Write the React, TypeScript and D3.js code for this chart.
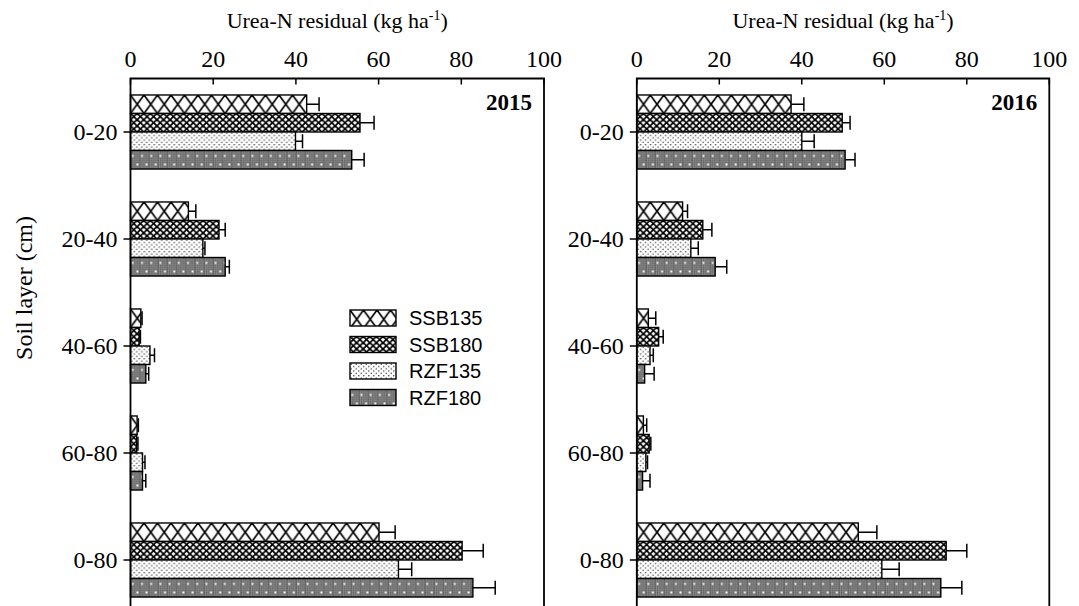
import React from "react";
import * as d3 from "d3";

const categories = ["0-20", "20-40", "40-60", "60-80", "0-80"];
const seriesNames = ["SSB135", "SSB180", "RZF135", "RZF180"];
const years = ["2015", "2016"];
const xTicks = [0, 20, 40, 60, 80, 100];

// 2015 values per series (in category order)
const v2015_SSB135 = [42.6, 14.0, 2.5, 1.6, 60.1];
const v2015_SSB180 = [55.5, 21.4, 2.1, 1.5, 80.2];
const v2015_RZF135 = [39.9, 17.5, 4.7, 2.9, 64.8];
const v2015_RZF180 = [53.5, 22.9, 3.7, 2.9, 82.8];
const e2015_SSB135 = [3.0, 1.8, 0.3, 0.3, 3.9];
const e2015_SSB180 = [3.4, 1.5, 0.3, 0.3, 5.1];
const e2015_RZF135 = [1.7, 0.5, 1.1, 0.6, 3.2];
const e2015_RZF180 = [3.0, 1.0, 0.7, 0.8, 5.4];

// 2016
const v2016_SSB135 = [37.4, 11.1, 2.8, 1.6, 53.7];
const v2016_SSB180 = [49.8, 16.0, 5.3, 3.0, 75.0];
const v2016_RZF135 = [40.0, 13.1, 3.2, 2.2, 59.4];
const v2016_RZF180 = [50.5, 19.0, 1.9, 1.4, 73.7];
const e2016_SSB135 = [3.1, 1.2, 1.8, 0.8, 4.5];
const e2016_SSB180 = [1.9, 2.2, 1.1, 0.4, 5.0];
const e2016_RZF135 = [3.0, 1.8, 0.8, 0.4, 4.2];
const e2016_RZF180 = [2.4, 2.8, 2.3, 1.8, 5.1];

const panelValues = [
  [v2015_SSB135, v2015_SSB180, v2015_RZF135, v2015_RZF180],
  [v2016_SSB135, v2016_SSB180, v2016_RZF135, v2016_RZF180],
];
const panelErrors = [
  [e2015_SSB135, e2015_SSB180, e2015_RZF135, e2015_RZF180],
  [e2016_SSB135, e2016_SSB180, e2016_RZF135, e2016_RZF180],
];

const W = 1079;
const H = 606;
const TOP = 78.5;
const BOTTOM = 613.5;
const panels = [
  { x0: 130.5, x1: 544 },
  { x0: 636.8, x1: 1049.3 },
];
const patIds = ["pSSB135", "pSSB180", "pRZF135", "pRZF180"];
const SERIF = "'Liberation Serif', 'Times New Roman', serif";
const SANS = "'Liberation Sans', Arial, sans-serif";

export default function App() {
  const y = d3
    .scaleBand<string>()
    .domain(categories)
    .range([TOP, BOTTOM])
    .paddingInner(0.308)
    .paddingOuter(0.154);
  const ys = d3.scaleBand<string>().domain(seriesNames).range([0, y.bandwidth()]).padding(0);
  const bh = ys.bandwidth();

  const patterns = (
    <defs>
      <pattern id="pSSB135" patternUnits="userSpaceOnUse" width={13.5} height={bh}>
        <rect width={13.5} height={bh} fill="#fff" />
        <line x1={0} y1={0} x2={13.5} y2={bh} stroke="#000" strokeWidth={1.6} />
        <line x1={13.5} y1={0} x2={0} y2={bh} stroke="#000" strokeWidth={1.6} />
      </pattern>
      <pattern id="pSSB180" patternUnits="userSpaceOnUse" width={6.6} height={bh / 3}>
        <rect width={6.6} height={bh / 3} fill="#fff" />
        <line x1={0} y1={0} x2={6.6} y2={bh / 3} stroke="#000" strokeWidth={1.7} />
        <line x1={6.6} y1={0} x2={0} y2={bh / 3} stroke="#000" strokeWidth={1.7} />
      </pattern>
      <pattern id="pRZF135" patternUnits="userSpaceOnUse" width={5} height={bh / 4}>
        <rect width={5} height={bh / 4} fill="#fff" />
        <circle cx={1.25} cy={bh / 16} r={0.75} fill="#333" />
        <circle cx={3.75} cy={(3 * bh) / 16} r={0.75} fill="#333" />
      </pattern>
      <pattern id="pRZF180" patternUnits="userSpaceOnUse" width={9.2} height={bh}>
        <rect width={9.2} height={bh} fill="#8a8a8a" />
        {d3.range(0, 9.2, 2).map((px) =>
          d3.range(0, bh, 2).map((py) => (
            <rect key={`${px}-${py}`} x={px} y={py} width={1} height={1} fill="#444" />
          ))
        )}
        <circle cx={2.3} cy={bh * 0.29} r={1.1} fill="#fff" />
        <circle cx={6.9} cy={bh * 0.76} r={1.1} fill="#fff" />
      </pattern>
    </defs>
  );

  return (
    <svg
      width={W}
      height={H}
      style={{ position: "absolute", left: 0, top: 0, background: "#fff" }}
    >
      {patterns}
      <rect width={W} height={H} fill="#fff" />
      {panels.map((p, pi) => {
        const x = d3.scaleLinear().domain([0, 100]).range([p.x0, p.x1]);
        const vals = panelValues[pi];
        const errs = panelErrors[pi];
        return (
          <g key={pi}>
            {/* title */}
            <text
              x={(p.x0 + p.x1) / 2}
              y={28}
              textAnchor="middle"
              fontFamily={SERIF}
              fontSize={22}
            >
              Urea-N residual (kg ha
              <tspan dy={-8} fontSize={14}>-1</tspan>
              <tspan dy={8}>)</tspan>
            </text>
            {/* x tick labels */}
            {xTicks.map((t) => (
              <text
                key={t}
                x={x(t)}
                y={67}
                textAnchor="middle"
                fontFamily={SERIF}
                fontSize={24}
              >
                {t}
              </text>
            ))}
            {/* bars */}
            {categories.map((c, ci) =>
              seriesNames.map((s, si) => {
                const v = vals[si][ci];
                const e = errs[si][ci];
                const by = (y(c) as number) + (ys(s) as number);
                const cy = by + bh / 2;
                return (
                  <g key={c + s}>
                    <line x1={x(v)} x2={x(v + e)} y1={cy} y2={cy} stroke="#000" strokeWidth={1.5} />
                    <line x1={x(v + e)} x2={x(v + e)} y1={cy - 7} y2={cy + 7} stroke="#000" strokeWidth={1.5} />
                    <g transform={`translate(${x(0)},${by})`}>
                      <rect
                        width={x(v) - x(0)}
                        height={bh}
                        fill={`url(#${patIds[si]})`}
                        stroke="#000"
                        strokeWidth={1.4}
                      />
                    </g>
                  </g>
                );
              })
            )}
            {/* frame */}
            <path
              d={`M${p.x0},${BOTTOM}V${TOP}H${p.x1}V${BOTTOM}`}
              fill="none"
              stroke="#000"
              strokeWidth={1.8}
            />
            {xTicks.map((t) => (
              <line key={t} x1={x(t)} x2={x(t)} y1={TOP} y2={TOP + 6} stroke="#000" strokeWidth={1.5} />
            ))}
            {categories.map((c) => {
              const cy = (y(c) as number) + y.bandwidth() / 2;
              return (
                <g key={c}>
                  <line x1={p.x0 - 7} x2={p.x0} y1={cy} y2={cy} stroke="#000" strokeWidth={1.5} />
                  <text
                    x={p.x0 - 13}
                    y={cy}
                    dy="0.35em"
                    textAnchor="end"
                    fontFamily={SERIF}
                    fontSize={24}
                  >
                    {c}
                  </text>
                </g>
              );
            })}
            <text
              x={p.x1 - 12}
              y={110}
              textAnchor="end"
              fontFamily={SERIF}
              fontSize={23}
              fontWeight="bold"
            >
              {years[pi]}
            </text>
          </g>
        );
      })}
      {/* y axis title */}
      <text
        transform="translate(32,288) rotate(-90)"
        textAnchor="middle"
        fontFamily={SERIF}
        fontSize={24}
      >
        Soil layer (cm)
      </text>
      {/* legend */}
      {seriesNames.map((s, si) => {
        const ly = 310 + si * 26.5;
        return (
          <g key={s}>
            <g transform={`translate(350,${ly})`}>
              <rect width={46} height={16} fill={`url(#${patIds[si]})`} stroke="#000" strokeWidth={1.4} />
            </g>
            <text x={409} y={ly + 8} dy="0.36em" fontFamily={SANS} fontSize={20}>
              {s}
            </text>
          </g>
        );
      })}
    </svg>
  );
}
